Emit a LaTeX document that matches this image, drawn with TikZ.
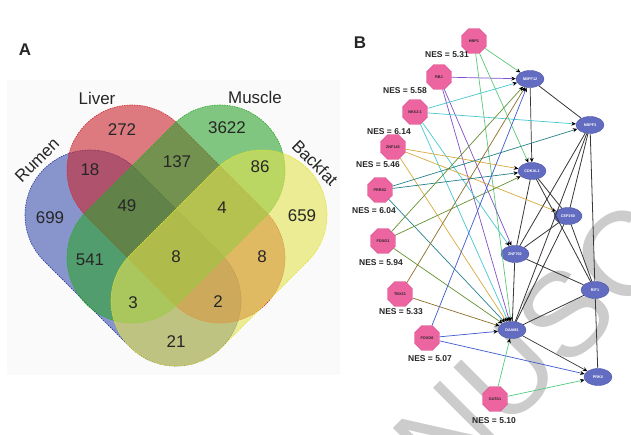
\documentclass[tikz,border=0pt]{standalone}
\usepackage{fontspec}
\setmainfont{Liberation Sans}
\usetikzlibrary{arrows.meta,shapes.geometric,calc}
\definecolor{vblue}{RGB}{60,82,175}
\definecolor{vred}{RGB}{200,38,47}
\definecolor{vgreen}{RGB}{47,163,47}
\definecolor{vyellow}{RGB}{227,227,80}
\definecolor{bblue}{RGB}{40,55,160}
\definecolor{bred}{RGB}{215,40,50}
\definecolor{bgreen}{RGB}{40,170,40}
\definecolor{byellow}{RGB}{225,225,40}
\definecolor{pinkfill}{RGB}{236,100,160}
\definecolor{pinkdraw}{RGB}{215,70,135}
\definecolor{genefill}{RGB}{98,108,192}
\definecolor{genedraw}{RGB}{75,85,170}
\definecolor{cHBP}{RGB}{90,200,120}
\definecolor{cRBJ}{RGB}{130,80,200}
\definecolor{cNKX}{RGB}{70,200,210}
\definecolor{cZNF}{RGB}{215,170,60}
\definecolor{cPRRX}{RGB}{40,130,140}
\definecolor{cFOXOa}{RGB}{100,145,50}
\definecolor{cTBX}{RGB}{140,110,40}
\definecolor{cFOXOb}{RGB}{60,90,205}
\definecolor{cGATA}{RGB}{80,205,130}
\definecolor{cgene}{RGB}{55,55,55}
\begin{document}
\begin{tikzpicture}[x=1bp,y=-1bp,
  venn/.style={fill opacity=0.6, line width=0.6bp, dash pattern=on 1.5bp off 1bp},
  vnum/.style={font=\fontsize{17}{18}\selectfont, text=black!85, inner sep=0pt},
  vlab/.style={font=\fontsize{17}{18}\selectfont, text=black!85, inner sep=0pt},
  panel/.style={font=\fontsize{17}{18}\selectfont\bfseries, text=black!85, inner sep=0pt},
  tf/.style={regular polygon, regular polygon sides=8, minimum size=27bp, inner sep=0pt,
    fill=pinkfill, draw=pinkdraw, line width=0.4bp,
    font=\fontsize{3.8}{4}\selectfont\bfseries, text=black!85},
  gene/.style={ellipse, minimum width=28bp, minimum height=17bp, inner sep=0pt,
    fill=genefill, draw=genedraw, line width=0.4bp,
    font=\fontsize{3.8}{4}\selectfont\bfseries, text=white},
  nes/.style={font=\fontsize{8.5}{9}\selectfont\bfseries, text=black!85, inner sep=0pt},
  link/.style={line width=0.7bp, -{Stealth[length=4.5bp,width=4bp,color=black]}},
  plain/.style={line width=0.8bp, draw=cgene},
  wm/.style={font=\fontsize{120}{120}\selectfont, text=black!20, inner sep=0pt}
]
\useasboundingbox (0,0) rectangle (631,435);
\fill[white] (0,0) rectangle (631,435);
% watermark
\begin{scope}
\clip (0,0) rectangle (631,435);
\node[wm, rotate=45] (wmark) at (568,312) {MANUSCRIPT};
\end{scope}
% ---------------- Panel A ----------------
\fill[black!2] (7,80) rectangle (340,375);
\node[panel] (labA) at (25,50) {A};
\coordinate (bA) at (90,215);  \coordinate (bB) at (176,301);
\coordinate (rA) at (132,170); \coordinate (rB) at (220,258);
\coordinate (gA) at (220,170); \coordinate (gB) at (132,258);
\coordinate (yA) at (262,215); \coordinate (yB) at (176,301);
\path[venn, fill=vblue, draw=bblue]
  ($(bA)+(45:65bp)$) arc[start angle=45,end angle=225,radius=65bp]
  -- ($(bB)+(225:65bp)$) arc[start angle=225,end angle=405,radius=65bp] -- cycle;
\path[venn, fill=vred, draw=bred]
  ($(rA)+(45:65bp)$) arc[start angle=45,end angle=225,radius=65bp]
  -- ($(rB)+(225:65bp)$) arc[start angle=225,end angle=405,radius=65bp] -- cycle;
\path[venn, fill=vgreen, draw=bgreen]
  ($(gA)+(-45:65bp)$) arc[start angle=-45,end angle=135,radius=65bp]
  -- ($(gB)+(135:65bp)$) arc[start angle=135,end angle=315,radius=65bp] -- cycle;
\path[venn, fill=vyellow, draw=byellow]
  ($(yA)+(-45:65bp)$) arc[start angle=-45,end angle=135,radius=65bp]
  -- ($(yB)+(135:65bp)$) arc[start angle=135,end angle=315,radius=65bp] -- cycle;
\node[vlab] (lLiver) at (97,98) {Liver};
\node[vlab] (lMuscle) at (255,97) {Muscle};
\node[vlab, rotate=45] (lRumen) at (37,160) {Rumen};
\node[vlab, rotate=-45] (lBackfat) at (315,163) {Backfat};
\node[vnum] (n699) at (50,218) {699};
\node[vnum] (n272) at (122,130) {272};
\node[vnum] (n3622) at (227,128) {3622};
\node[vnum] (n659) at (302,216) {659};
\node[vnum] (n18) at (90,170) {18};
\node[vnum] (n137) at (177,162) {137};
\node[vnum] (n86) at (260,167) {86};
\node[vnum] (n49) at (127,206) {49};
\node[vnum] (n4) at (222,208) {4};
\node[vnum] (n541) at (90,260) {541};
\node[vnum] (n8a) at (176,257) {8};
\node[vnum] (n8b) at (262,257) {8};
\node[vnum] (n3) at (133,303) {3};
\node[vnum] (n2) at (218,302) {2};
\node[vnum] (n21) at (176,342) {21};
% ---------------- Panel B ----------------
\node[panel] (labB) at (360,43) {B};
\node[tf] (HBP1) at (474,41) {HBP1};
\node[tf] (RBJ) at (439,77) {RBJ};
\node[tf] (NKX) at (415,112) {NKX2-1};
\node[tf] (ZNF143) at (393,147) {ZNF143};
\node[tf] (PRRX2) at (380,190) {PRRX2};
\node[tf] (FOXO1) at (383,241) {FOXO1};
\node[tf] (TBX21) at (400,294) {TBX21};
\node[tf] (FOXO6) at (427,338) {FOXO6};
\node[tf] (GATA1) at (495,399) {GATA1};
\node[nes] (e1) at (447,55) {NES = 5.31};
\node[nes] (e2) at (405,91) {NES = 5.58};
\node[nes] (e3) at (389,132) {NES = 6.14};
\node[nes] (e4) at (378,165) {NES = 5.46};
\node[nes] (e5) at (374,211) {NES = 6.04};
\node[nes] (e6) at (381,263) {NES = 5.94};
\node[nes] (e7) at (401,312) {NES = 5.33};
\node[nes] (e8) at (430,359) {NES = 5.07};
\node[nes] (e9) at (494,421) {NES = 5.10};
\node[gene] (NBPF12) at (530,79) {NBPF12};
\node[gene] (NBPF3) at (590,125) {NBPF3};
\node[gene] (CDKAL1) at (532,171) {CDKAL1};
\node[gene] (CEP250) at (568,216) {CEP250};
\node[gene] (ZNF702) at (515,254) {ZNF702};
\node[gene] (RIF1) at (595,290) {RIF1};
\node[gene] (DAAM1) at (512,330) {DAAM1};
\node[gene] (PRKX) at (598,377) {PRKX};
% gene-gene links
\draw[plain] (NBPF12) -- (NBPF3);
\draw[plain] (NBPF3) -- (CEP250);
\draw[plain] (NBPF3) -- (ZNF702);
\draw[plain] (NBPF3) -- (DAAM1);
\draw[plain] (NBPF3) -- (RIF1);
\draw[plain] (CDKAL1) -- (CEP250);
\draw[plain] (CDKAL1) -- (ZNF702);
\draw[plain] (CDKAL1) -- (RIF1);
\draw[plain] (CEP250) -- (ZNF702);
\draw[plain] (CEP250) -- (DAAM1);
\draw[plain] (CEP250) -- (RIF1);
\draw[plain] (ZNF702) -- (DAAM1);
\draw[plain] (ZNF702) -- (RIF1);
\draw[plain] (RIF1) -- (DAAM1);
\draw[plain] (RIF1) -- (PRKX);
\draw[plain, link, draw=cgene] (NBPF12) -- (CDKAL1);
\draw[plain, link, draw=cgene] (DAAM1) -- (PRKX);
% TF links
\draw[link, cHBP] (HBP1) -- (NBPF12);
\draw[link, cHBP] (HBP1) -- (CDKAL1);
\draw[link, cHBP] (HBP1) -- (DAAM1);
\draw[link, cRBJ] (RBJ) -- (NBPF12);
\draw[link, cRBJ] (RBJ) -- (ZNF702);
\draw[link, cRBJ] (RBJ) -- (DAAM1);
\draw[link, cNKX] (NKX) -- (NBPF12);
\draw[link, cNKX] (NKX) -- (NBPF3);
\draw[link, cNKX] (NKX) -- (ZNF702);
\draw[link, cNKX] (NKX) -- (DAAM1);
\draw[link, cZNF] (ZNF143) -- (CDKAL1);
\draw[link, cZNF] (ZNF143) -- (CEP250);
\draw[link, cZNF] (ZNF143) -- (DAAM1);
\draw[link, cPRRX] (PRRX2) -- (NBPF3);
\draw[link, cPRRX] (PRRX2) -- (CDKAL1);
\draw[link, cPRRX] (PRRX2) -- (DAAM1);
\draw[link, cFOXOa] (FOXO1) -- (NBPF12);
\draw[link, cFOXOa] (FOXO1) -- (CDKAL1);
\draw[link, cFOXOa] (FOXO1) -- (DAAM1);
\draw[link, cTBX] (TBX21) -- (NBPF12);
\draw[link, cTBX] (TBX21) -- (DAAM1);
\draw[link, cFOXOb] (FOXO6) -- (NBPF12);
\draw[link, cFOXOb] (FOXO6) -- (DAAM1);
\draw[link, cFOXOb] (FOXO6) -- (PRKX);
\draw[link, cGATA] (GATA1) -- (DAAM1);
\draw[link, cGATA] (GATA1) -- (PRKX);
\end{tikzpicture}
\end{document}
